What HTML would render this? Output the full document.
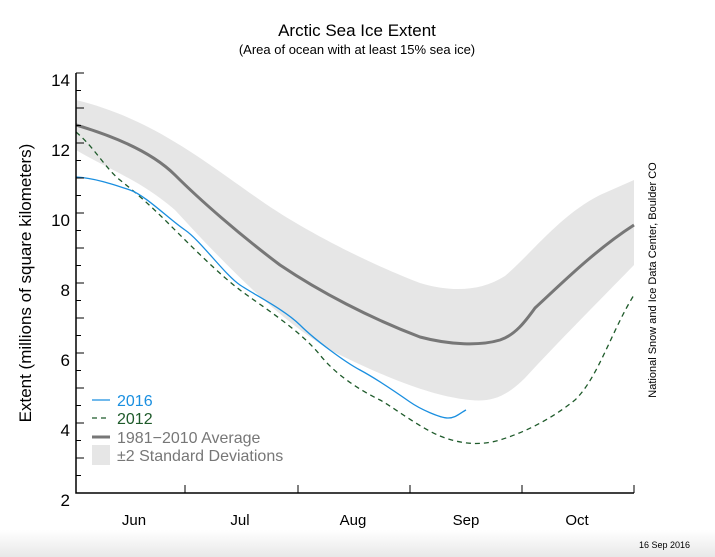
<!DOCTYPE html><html><head><style>body{margin:0;background:#fff}svg{display:block;font-family:"Liberation Sans",sans-serif}</style></head><body>
<svg width="715" height="557" viewBox="0 0 715 557">
<defs><linearGradient id="g" x1="0" y1="0" x2="0" y2="1"><stop offset="0" stop-color="#fff"/><stop offset="1" stop-color="#e8e8e8"/></linearGradient></defs>
<rect x="0" y="530" width="715" height="27" fill="url(#g)"/>
<text x="357" y="36" font-size="17" text-anchor="middle">Arctic Sea Ice Extent</text>
<text x="357" y="54" font-size="13" text-anchor="middle">(Area of ocean with at least 15% sea ice)</text>
<path d="M76,100 C150,118 200,158 260,200 C310,235 380,268 420,283 C450,292 480,292 505,276 C530,255 560,215 600,195 L634,180 L634,265 C600,300 560,340 525,378 C505,398 490,402 470,400 C440,397 400,385 330,350 C280,320 230,270 175,210 C140,180 110,170 76,150Z" fill="#e6e6e6"/>
<path d="M76,125 C120,138 155,155 175,175 C200,200 240,235 280,265 C320,292 370,318 420,337 C450,345 480,346 500,340 C515,335 525,322 535,308 C560,285 595,250 634,225" fill="none" stroke="#777" stroke-width="3"/>
<path d="M76,132 C95,148 105,168 120,180 S150,205 170,225 S220,275 240,290 S300,330 320,355 S370,395 380,400 S420,428 440,436 S480,446 500,440 C525,432 550,420 575,400 C598,378 612,330 634,295" fill="none" stroke="#1e5a2a" stroke-width="1.3" stroke-dasharray="5,4"/>
<path d="M76,177 C95,178 115,185 130,190 S170,220 185,230 S225,275 240,285 S285,310 300,325 S345,362 360,370 S400,395 410,402 S440,418 448,418 S460,413 466,410" fill="none" stroke="#1a8fe0" stroke-width="1.3"/>
<g stroke="#000" stroke-width="1.5" fill="none"><path d="M76,73 V493 H634"/></g>
<g stroke="#000" stroke-width="1"><path d="M76,73h8M76,90.5h5M76,108h8M76,125.5h5M76,143h8M76,160.5h5M76,178h8M76,195.5h5M76,213h8M76,230.5h5M76,248h8M76,265.5h5M76,283h8M76,300.5h5M76,318h8M76,335.5h5M76,353h8M76,370.5h5M76,388h8M76,405.5h5M76,423h8M76,440.5h5M76,458h8M76,475.5h5M185,493v-8M298,493v-8M410,493v-8M522,493v-8M634,493v-8"/></g>
<g font-size="17" text-anchor="end"><text x="70" y="86">14</text><text x="70" y="156">12</text><text x="70" y="226">10</text><text x="70" y="296">8</text><text x="70" y="366">6</text><text x="70" y="436">4</text><text x="70" y="506">2</text></g>
<g font-size="15" text-anchor="middle"><text x="134" y="525">Jun</text><text x="240" y="525">Jul</text><text x="353" y="525">Aug</text><text x="466" y="525">Sep</text><text x="577" y="525">Oct</text></g>
<text transform="translate(31,283) rotate(-90)" font-size="17" text-anchor="middle">Extent (millions of square kilometers)</text>
<text transform="translate(656,280) rotate(-90)" font-size="11" text-anchor="middle">National Snow and Ice Data Center, Boulder CO</text>
<text x="690" y="548" font-size="9" text-anchor="end">16 Sep 2016</text>
<line x1="92" y1="400" x2="110" y2="400" stroke="#1a8fe0" stroke-width="1.3"/>
<text x="117" y="406" font-size="16" fill="#1a8fe0">2016</text>
<line x1="92" y1="418" x2="110" y2="418" stroke="#1e5a2a" stroke-width="1.3" stroke-dasharray="5,4"/>
<text x="117" y="424" font-size="16" fill="#1e5a2a">2012</text>
<line x1="92" y1="437" x2="110" y2="437" stroke="#777" stroke-width="3"/>
<text x="117" y="443" font-size="16" fill="#777">1981−2010 Average</text>
<rect x="92" y="445" width="18" height="20" fill="#e6e6e6"/>
<text x="117" y="461" font-size="16" fill="#777">±2 Standard Deviations</text>
</svg></body></html>
